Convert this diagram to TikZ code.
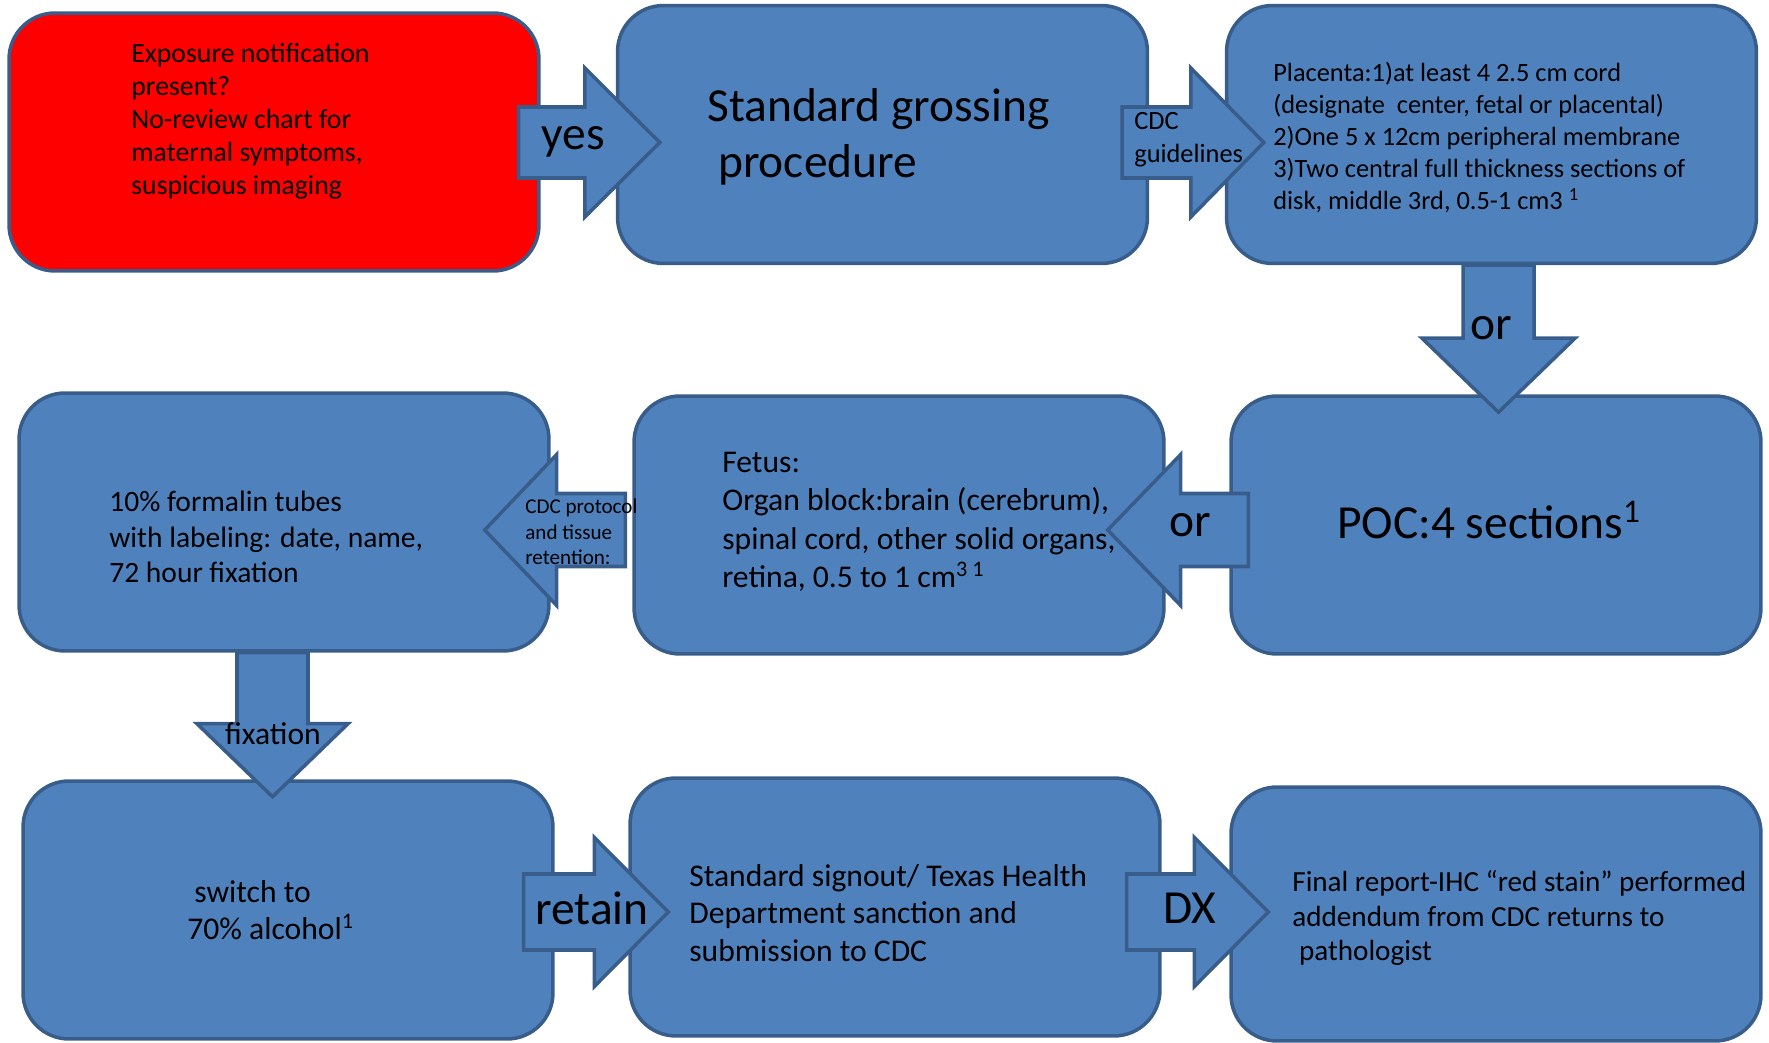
\documentclass[tikz,border=0pt]{standalone}
\usepackage{fontspec}
\setmainfont{Carlito}
\usetikzlibrary{calc}
\definecolor{boxblue}{RGB}{79,129,189}
\definecolor{edgeblue}{RGB}{56,93,138}
\definecolor{alertred}{RGB}{255,0,0}
\newcommand\blockR[5]{\draw[blockarrow] ($(#1)+(0,-#3)$) -- ($(#2)+(-#5,-#3)$) -- ($(#2)+(-#5,-#4)$) -- (#2) -- ($(#2)+(-#5,#4)$) -- ($(#2)+(-#5,#3)$) -- ($(#1)+(0,#3)$) -- cycle;}
\newcommand\blockL[5]{\draw[blockarrow] ($(#1)+(0,-#3)$) -- ($(#2)+(#5,-#3)$) -- ($(#2)+(#5,-#4)$) -- (#2) -- ($(#2)+(#5,#4)$) -- ($(#2)+(#5,#3)$) -- ($(#1)+(0,#3)$) -- cycle;}
\newcommand\blockD[5]{\draw[blockarrow] ($(#1)+(-#3,0)$) -- ($(#2)+(-#3,-#5)$) -- ($(#2)+(-#4,-#5)$) -- (#2) -- ($(#2)+(#4,-#5)$) -- ($(#2)+(#3,-#5)$) -- ($(#1)+(#3,0)$) -- cycle;}
\begin{document}
\begin{tikzpicture}[x=0.02cm,y=-0.02cm,
  stepbox/.style={draw=edgeblue, fill=boxblue, line width=2pt, rounded corners=0.92cm, inner sep=0pt, minimum width=10.6cm, minimum height=5.16cm},
  alertbox/.style={stepbox, fill=alertred},
  blockarrow/.style={draw=edgeblue, fill=boxblue, line width=2pt, line join=miter},
  txt/.style={inner sep=0pt, align=left, anchor=west, text=black},
  big/.style={inner sep=0pt, text=black, font=\fontsize{27}{32}\selectfont}]
\useasboundingbox (0,0) rectangle (1769,1043);
% boxes
\node[alertbox] (red) at (274,142) {};
\node[stepbox] (B) at (882.5,134.5) {};
\node[stepbox] (C) at (1491.5,134.5) {};
\node[stepbox] (F) at (284,522) {};
\node[stepbox] (G) at (899,525) {};
\node[stepbox] (P) at (1496,525) {};
\node[stepbox] (S) at (288,910) {};
\node[stepbox] (T) at (895,907) {};
\node[stepbox, minimum height=5.08cm] (R) at (1496,914) {};
% arrow coordinates
\coordinate (yesT) at ($(red.east)+(-22,0.5)$);
\coordinate (yesH) at ($(B.west |- yesT)+(44,0)$);
\coordinate (cdcT) at ($(B.east |- yesT)+(-27,0)$);
\coordinate (cdcH) at ($(C.west |- yesT)+(39,0)$);
\coordinate (orDT) at ($(C.south)+(7,0)$);
\coordinate (orDH) at ($(C.south)+(7,147)$);
\coordinate (orLT) at ($(P.west)+(19,5)$);
\coordinate (orLH) at ($(G.east |- orLT)+(-58,0)$);
\coordinate (prT) at ($(G.west |- orLT)+(-7,0)$);
\coordinate (prH) at ($(F.east |- orLT)+(-66,0)$);
\coordinate (fixT) at ($(F.south)+(-11.5,0)$);
\coordinate (fixH) at ($(F.south)+(-11.5,144)$);
\coordinate (retT) at ($(S.east)+(-31,2)$);
\coordinate (retH) at ($(T.west |- retT)+(40,0)$);
\coordinate (dxT) at ($(T.east |- retT)+(-35,0)$);
\coordinate (dxH) at ($(R.west |- retT)+(39,0)$);
% block arrows
\blockR{yesT}{yesH}{35.5}{74.5}{75}
\blockR{cdcT}{cdcH}{35.5}{74.5}{73}
\blockD{orDT}{orDH}{35.5}{76.5}{74}
\blockL{orLT}{orLH}{36.5}{75.5}{73}
\blockL{prT}{prH}{36.5}{75.5}{72}
\blockD{fixT}{fixH}{35.5}{75.5}{73}
\blockR{retT}{retH}{38}{74.5}{74}
\blockR{dxT}{dxH}{38}{74.5}{74}
% texts
\node[txt, font=\fontsize{15.8}{18.7}\selectfont] (redtext) at (131,121.5) {Exposure notification\\present?\\No-review chart for\\maternal symptoms,\\suspicious imaging};
\node[txt, font=\fontsize{27}{32}\selectfont] (Btext) at (707,136.5) {Standard grossing\\\hspace*{0.23em}procedure};
\node[txt, font=\fontsize{15}{18.2}\selectfont] (Ctext) at (1273,137.5) {Placenta:1)at least 4 2.5 cm cord\\(designate\ \ center, fetal or placental)\\2)One 5 x 12cm peripheral membrane\\3)Two central full thickness sections of\\disk, middle 3rd, 0.5-1 cm3 \textsuperscript{1}};
\node[big] (Ptext) at (1489,520) {POC:4 sections\textsuperscript{1}};
\node[txt, font=\fontsize{18}{21.8}\selectfont] (Gtext) at (722,522) {Fetus:\\Organ block:brain (cerebrum),\\spinal cord, other solid organs,\\retina, 0.5 to 1 cm\textsuperscript{3 1}};
\node[txt, font=\fontsize{16.8}{20.4}\selectfont] (Ftext) at (109,537) {10\% formalin tubes\\with labeling: date, name,\\72 hour fixation};
\node[txt, font=\fontsize{18}{21}\selectfont] (Stext) at (187,910) {\hspace*{4pt}switch to\\70\% alcohol\textsuperscript{1}};
\node[txt, font=\fontsize{18}{21.4}\selectfont] (Ttext) at (689,913) {Standard signout/ Texas Health\\Department sanction and\\submission to CDC};
\node[txt, font=\fontsize{16.6}{19.8}\selectfont] (Rtext) at (1292,918) {Final report-IHC “red stain” performed\\addendum from CDC returns to\\\hspace*{0.23em}pathologist};
% arrow labels
\node[txt, font=\fontsize{15}{18.5}\selectfont] (cdclab) at (1134,139.5) {CDC\\guidelines};
\node[txt, font=\fontsize{12}{14.4}\selectfont] (prlab) at (525,532) {CDC protocol\\and tissue\\retention:};
\node[big] (yeslab) at (573,142) {yes};
\node[big] (orDlab) at (1491,328) {or};
\node[big] (orLlab) at (1190,525) {or};
\node[inner sep=0pt, font=\fontsize{18}{21}\selectfont] (fixlab) at (273,734) {fixation};
\node[big] (retlab) at (592,908) {retain};
\node[big] (dxlab) at (1190,908) {DX};
\end{tikzpicture}
\end{document}
